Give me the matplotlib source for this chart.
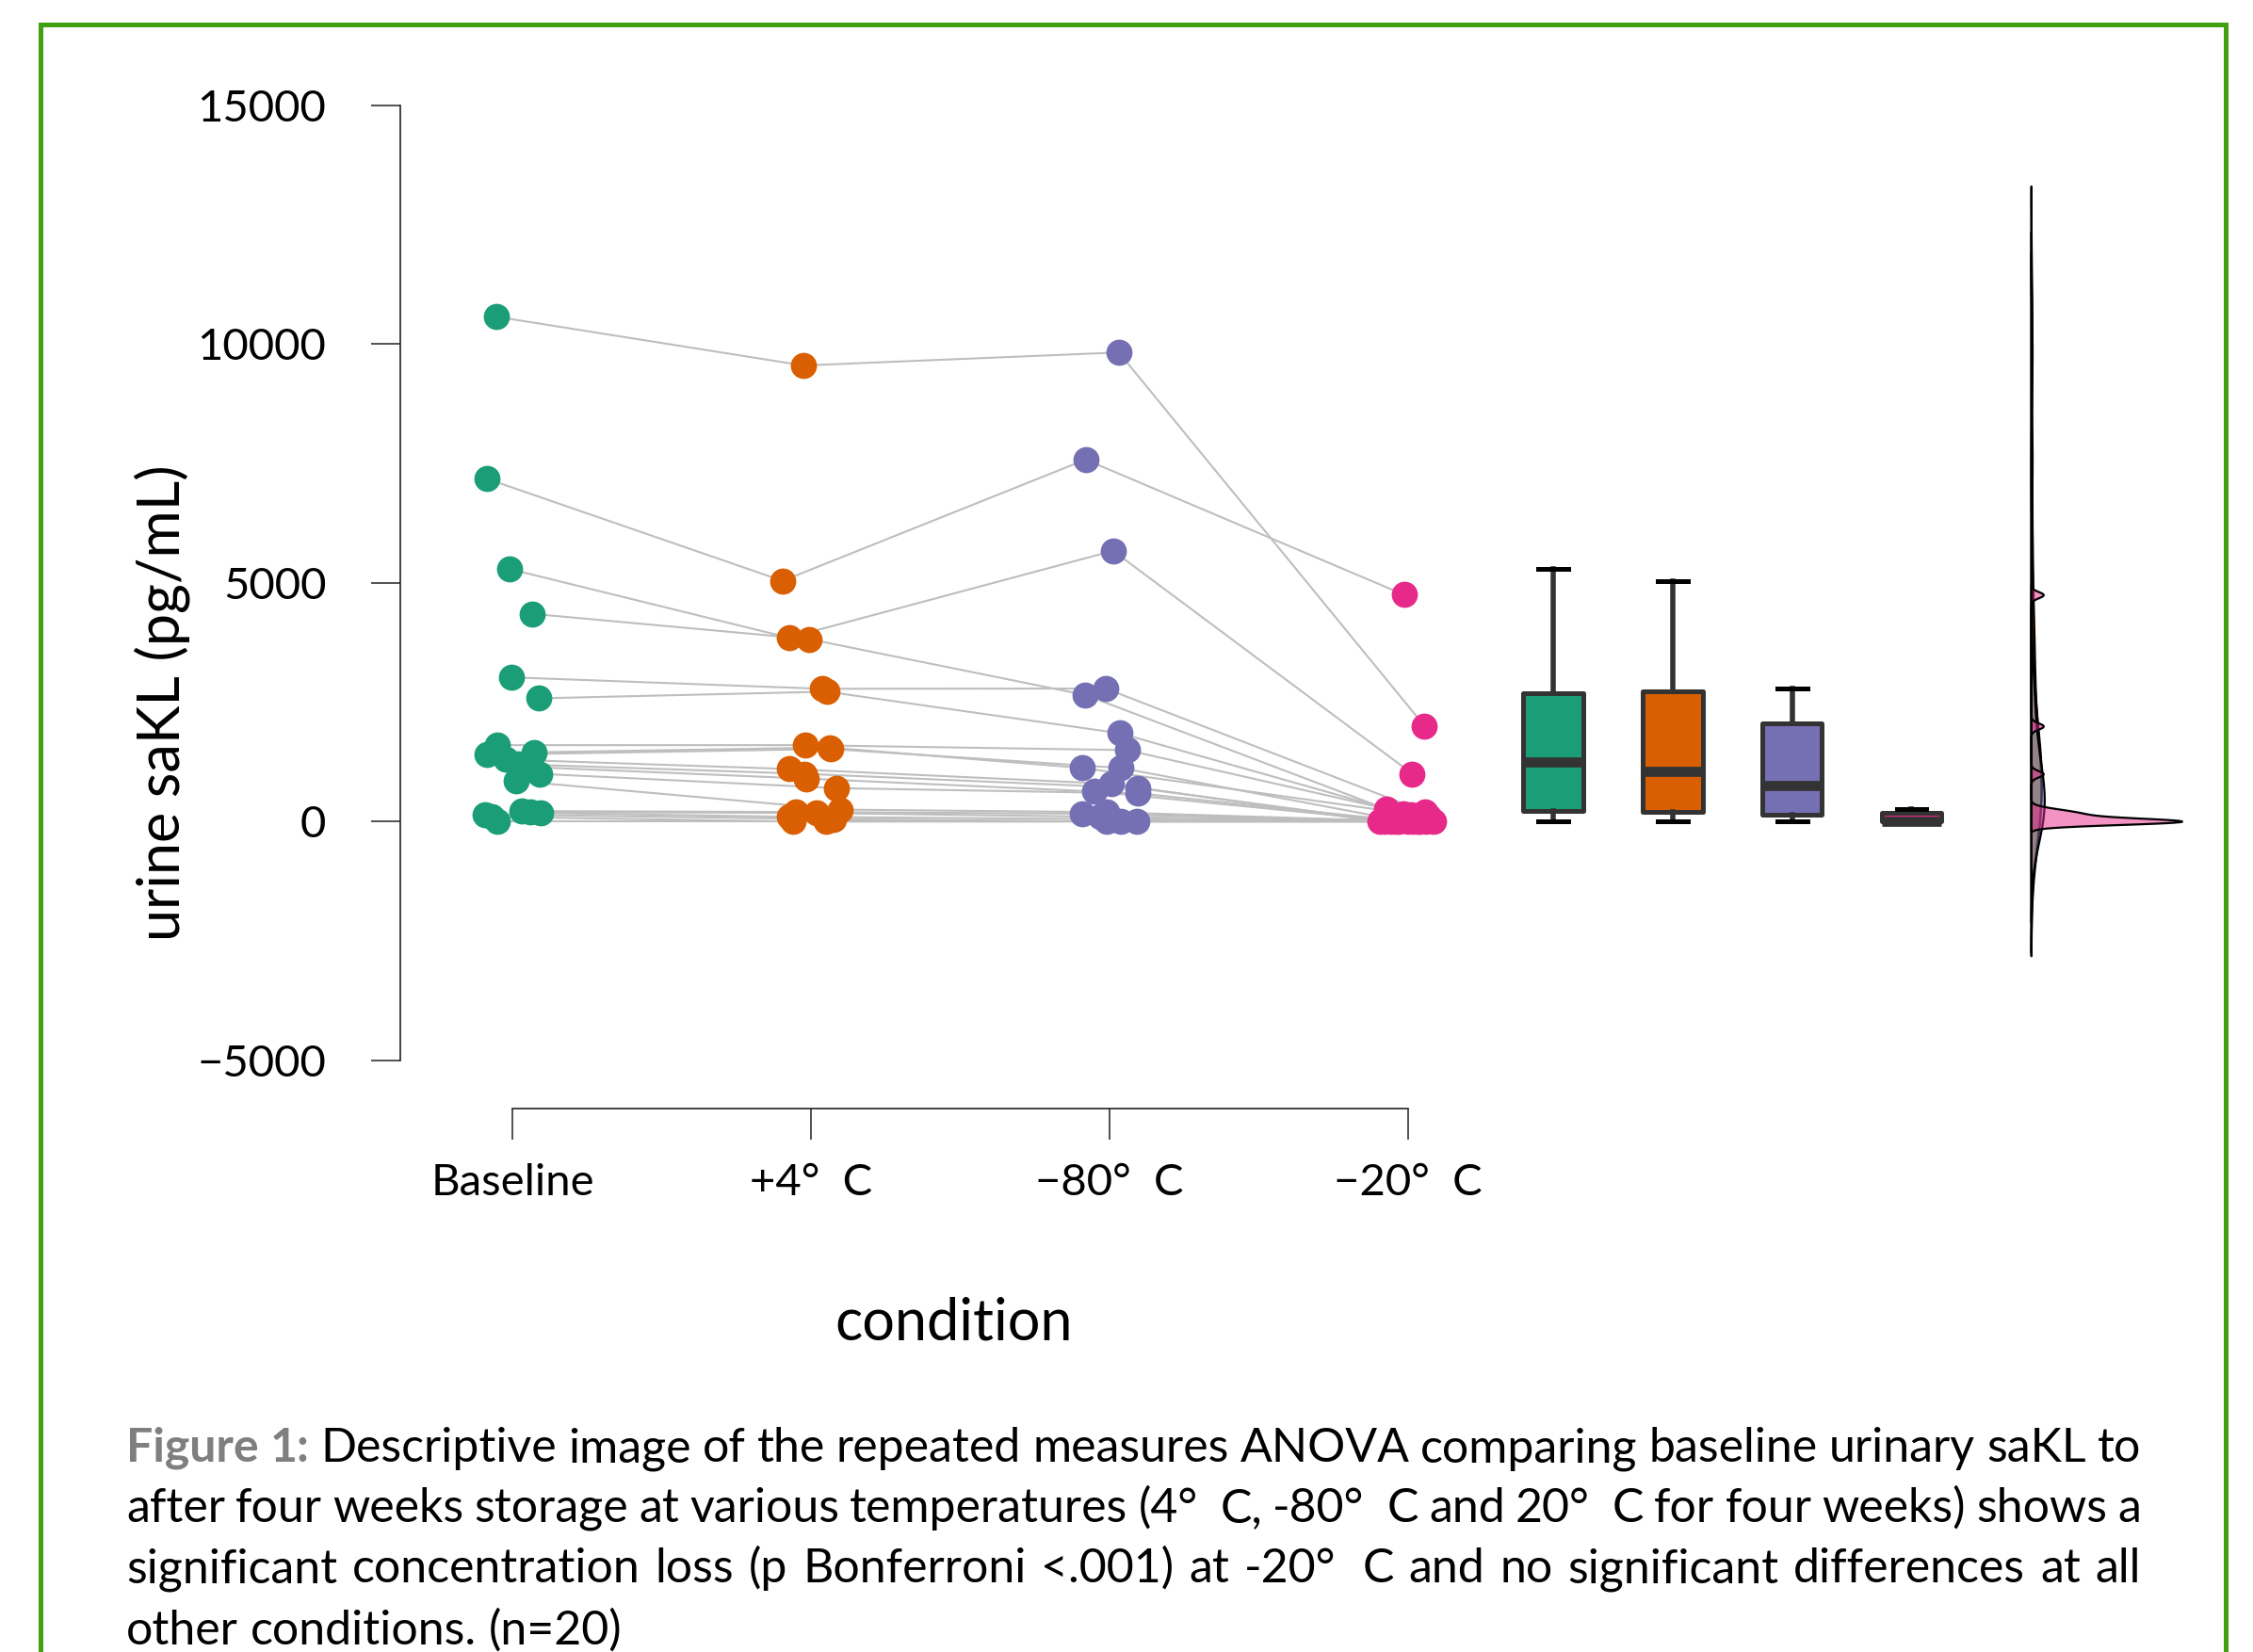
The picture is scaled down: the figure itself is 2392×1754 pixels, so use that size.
import numpy as np
import matplotlib
matplotlib.use("Agg")
import matplotlib.pyplot as plt
from matplotlib.patches import Rectangle
from matplotlib.colors import to_rgba

# ---- canvas (pixel based layout) ----
W, H, DPI = 2392, 1754, 200
plt.rcParams['font.family'] = ['Lato', 'DejaVu Sans']

# ---- data (one value per subject, same subject order in every list) ----
conditions = ['Baseline', '+4°  C', '\u221280°  C', '\u221220°  C']
colors = ['#1B9E77', '#D95F02', '#7570B3', '#E7298A']

baseline = [10571, 7177, 5290, 4350, 3020, 2580, 1600, 1450, 1400, 1300,
            1200, 1150, 1000, 850, 220, 200, 180, 150, 100, 0]
plus4 = [9550, 5040, 3850, 3820, 2780, 2720, 1600, 1550, 1520, 1100,
         1000, 900, 700, 250, 200, 180, 100, 50, 0, 0]
minus80 = [9823, 7579, 5669, 2650, 2786, 1850, 1496, 1122, 1122, 790,
           700, 630, 590, 197, 165, 100, 50, 0, 0, 0]
minus20 = [2000, 4750, 1000, 260, 200, 170, 150, 100, 50, 0,
           0, 0, 0, 0, 0, 0, 0, 0, 0, 0]

# horizontal jitter of the dots (category units)
jit_base = [-0.054, -0.085, -0.011, 0.066, -0.003, 0.088, -0.05, 0.073, -0.085, -0.022,
            0.019, 0.03, 0.09, 0.013, 0.03, 0.06, 0.095, -0.092, -0.07, -0.05]
jit_p4 = [-0.025, -0.095, -0.074, -0.006, 0.037, 0.053, -0.02, 0.062, 0.066, -0.072,
          -0.022, -0.016, 0.084, 0.098, -0.05, 0.02, -0.074, 0.075, -0.06, 0.05]
jit_m80 = [0.031, -0.08, 0.012, -0.081, -0.013, 0.034, 0.059, -0.091, 0.038, 0.006,
           0.096, -0.051, 0.096, -0.009, -0.091, -0.03, 0.01, -0.009, 0.038, 0.09]
jit_m20 = [0.055, -0.014, 0.014, -0.073, 0.057, -0.016, 0.01, 0.07, -0.05, -0.095,
           -0.06, -0.03, 0.0, 0.016, 0.04, 0.084, -0.08, 0.06, -0.045, 0.03]

groups = [baseline, plus4, minus80, minus20]
jitters = [jit_base, jit_p4, jit_m80, jit_m20]
box_pos = [4.486, 4.886, 5.286, 5.686]
violin_x = 6.086

caption = [
    "Figure 1: Descriptive image of the repeated measures ANOVA comparing baseline urinary saKL to",
    "after four weeks storage at various temperatures (4°  C, -80°  C and 20°  C for four weeks) shows a",
    "significant concentration loss (p Bonferroni <.001) at -20°  C and no significant differences at all",
    "other conditions. (n=20)",
]

fig = plt.figure(figsize=(W / DPI, H / DPI), dpi=DPI)

# axes: y axis line at x=424.7px, categories every 317px starting at 544px
px_left, px_right, px_top, px_bot = 424.7, 2340, 111.7, 1125.8
ax = fig.add_axes([px_left / W, 1 - px_bot / H, (px_right - px_left) / W, (px_bot - px_top) / H])
ax.set_xlim(1 - (544 - px_left) / 317, 1 + (px_right - 544) / 317)
ax.set_ylim(-5000, 15000)

# subject lines
for i in range(len(baseline)):
    xs = [k + 1 + jitters[k][i] for k in range(4)]
    ys = [groups[k][i] for k in range(4)]
    ax.plot(xs, ys, color='#BEBEBE', lw=0.75, zorder=1)

# dots
for k in range(4):
    ax.scatter(k + 1 + np.array(jitters[k]), groups[k],
               s=100, color=colors[k], linewidths=0, zorder=3)

# boxes
bp = ax.boxplot(groups, positions=box_pos, widths=0.2, patch_artist=True,
                showfliers=False, whis=1.5, capwidths=0.1, manage_ticks=False,
                boxprops=dict(linewidth=1.8, edgecolor='#333333'),
                medianprops=dict(color='#333333', linewidth=3.85, solid_capstyle='butt'),
                whiskerprops=dict(color='#333333', linewidth=2.0),
                capprops=dict(color='black', linewidth=1.8))
for patch, c in zip(bp['boxes'], colors):
    patch.set_facecolor(c)
    patch.set_joinstyle('round')


# half violins (gaussian kde, R nrd0 bandwidth, tails cut at 3*bw)
def nrd0(x):
    x = np.asarray(x, float)
    q75, q25 = np.percentile(x, [75, 25])
    lo = min(np.std(x, ddof=1), (q75 - q25) / 1.34)
    return 0.9 * lo * len(x) ** -0.2


dens_list = []
for vals in groups:
    v = np.asarray(vals, float)
    bw = nrd0(v)
    grid = np.linspace(v.min() - 3 * bw, v.max() + 3 * bw, 512)
    d = np.exp(-0.5 * ((grid[:, None] - v[None, :]) / bw) ** 2).sum(1) / (len(v) * bw * np.sqrt(2 * np.pi))
    dens_list.append((grid, d))
dmax = max(d.max() for _, d in dens_list)
for (grid, d), c in zip(dens_list, colors):
    ax.fill_betweenx(grid, violin_x, violin_x + d / dmax * 0.505,
                     facecolor=to_rgba(c, 0.5), edgecolor='black', lw=0.8, zorder=4)

# axes styling
for s in ['top', 'right']:
    ax.spines[s].set_visible(False)
ax.spines['left'].set_bounds(-5000, 15000)
ax.spines['bottom'].set_position(('outward', 51 * 72 / DPI))
ax.spines['bottom'].set_bounds(1, 4)
for s in ['left', 'bottom']:
    ax.spines[s].set_linewidth(0.6)
    ax.spines[s].set_color('#222222')
ax.set_yticks([-5000, 0, 5000, 10000, 15000])
ax.set_yticklabels(['\u22125000', '0', '5000', '10000', '15000'])
ax.set_xticks([1, 2, 3, 4])
ax.set_xticklabels(conditions)
ax.tick_params(axis='y', length=11.2, width=0.55, pad=17, labelsize=17, color='#222222')
ax.tick_params(axis='x', length=11.9, width=0.55, pad=9, labelsize=17, color='#222222')

fig.text(172 / W, 1 - 746 / H, 'urine saKL (pg/mL)', rotation=90, ha='center', va='center', fontsize=22)
fig.text(1013 / W, 1 - 1405 / H, 'condition', ha='center', va='center', fontsize=22)

# green frame
fig.add_artist(Rectangle((43 / W, -0.05), (2363 - 43) / W, 1 - 26 / H + 0.05,
                         transform=fig.transFigure, fill=False, edgecolor='#41a00f', lw=1.8))

# justified caption
renderer = fig.canvas.get_renderer()
cap_size = 18
cap_left, cap_right = 134, 2273
baselines = [1552, 1616, 1680, 1746]


def word_width(s, **kw):
    t = fig.text(0, 0, s, fontsize=cap_size, **kw)
    w = t.get_window_extent(renderer).width
    t.remove()
    return w


space_w = word_width('a a') - 2 * word_width('a')
for li, line in enumerate(caption):
    words = line.split()
    styles = []
    for wi, w in enumerate(words):
        if li == 0 and wi < 2:
            styles.append(dict(color='#7f7f7f', fontweight='bold'))
        else:
            styles.append(dict(color='black'))
    widths = [word_width(w, **st) for w, st in zip(words, styles)]
    # a degree sign is followed by a wider gap in the original
    extra = [space_w if w.endswith('°') else 0 for w in words]
    if li < len(caption) - 1:
        gap = (cap_right - cap_left - sum(widths) - sum(extra[:-1])) / (len(words) - 1)
    else:
        gap = space_w
    x = cap_left
    for w, st, ww, ex in zip(words, styles, widths, extra):
        fig.text(x / W, 1 - baselines[li] / H, w, fontsize=cap_size, ha='left', va='baseline', **st)
        x += ww + gap + ex

fig.savefig('out.png', dpi=DPI)
